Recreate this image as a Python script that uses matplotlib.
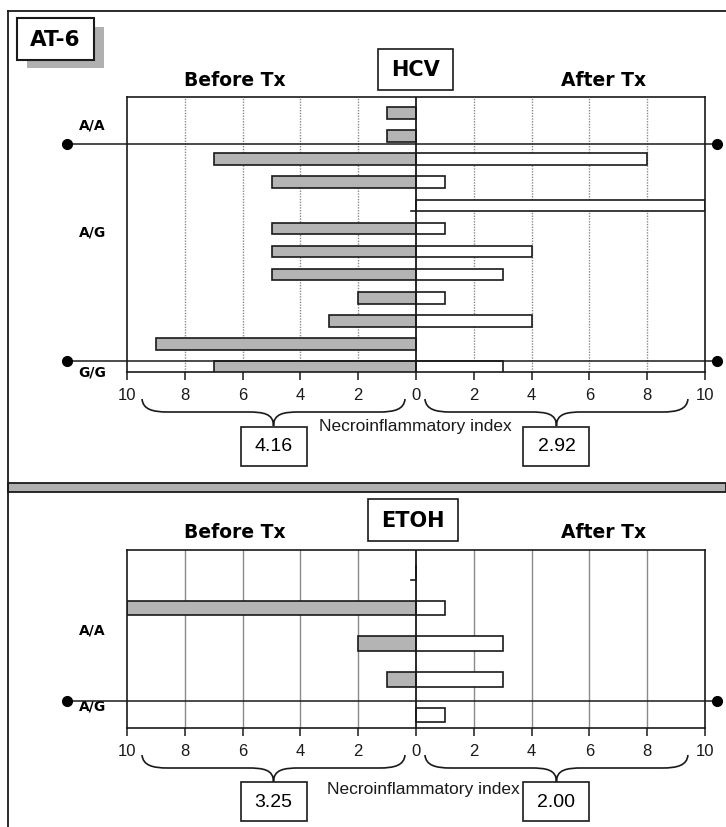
import matplotlib
matplotlib.use("Agg")
import matplotlib.pyplot as plt
from matplotlib.patches import Rectangle, PathPatch
from matplotlib.path import Path
from matplotlib.ticker import FuncFormatter

# -----------------------------
# Data  (None = no value, 0 = a real zero)
# -----------------------------

hcv_before = [1, 1, 7, 5, 0, 5, 5, 5, 2, 3, 9, 7]
hcv_after = [None, None, 8, 1, 10, 1, 4, 3, 1, 4, None, 3]
hcv_groups = ["A/A", "A/G", "G/G"]
hcv_group_pos = [0.48, 5.15, 11.2]
hcv_splits = [1.34, 10.74]
hcv_means = ["4.16", "2.92"]

etoh_before = [0, 10, 2, 1, None]
etoh_after = [None, 1, 3, 3, 1]
etoh_groups = ["A/A", "A/G"]
etoh_group_pos = [1.59, 3.75]
etoh_splits = [3.6]
etoh_means = ["3.25", "2.00"]

ticks = [-10, -8, -6, -4, -2, 0, 2, 4, 6, 8, 10]

W, H = 726, 828
NUM_FONT = "Liberation Sans"
BOLD_FONT = "DejaVu Sans"

fig = plt.figure(figsize=(W / 100, H / 100), dpi=100)


def px_axes(left, top, right, bottom):
    return fig.add_axes([left / W, 1 - bottom / H, (right - left) / W, (bottom - top) / H])


# -----------------------------
# Panels
# -----------------------------

def draw_panel(ax, before, after, groups, group_pos, splits, bar_h, ylim, grid_ls):
    rows = list(range(len(before)))
    ax.set_xlim(-10, 10)
    ax.set_ylim(*ylim)

    for x in ticks:
        if x not in (-10, 0, 10):
            ax.axvline(x, color="#8a8a8a", lw=1.0, ls=grid_ls, zorder=0)

    ax.barh(rows, [-(v or 0) for v in before], height=bar_h, color="#b4b4b4",
            edgecolor="#1a1a1a", lw=1.2, zorder=2)
    ax.barh(rows, [(v or 0) for v in after], height=bar_h, color="white",
            edgecolor="#1a1a1a", lw=1.2, zorder=2)

    # small tick where the before value is a real zero
    for r, v in zip(rows, before):
        if v == 0:
            ax.plot([-0.17, 0], [r + bar_h / 2, r + bar_h / 2], color="#1a1a1a",
                    lw=1.2, zorder=3)

    ax.axvline(0, color="#1a1a1a", lw=1.3, zorder=3)

    for s in splits:
        ax.plot([-12.08, 10.42], [s, s], color="#1a1a1a", lw=1.1,
                clip_on=False, zorder=4)
        ax.plot([-12.08, 10.42], [s, s], "o", color="black", ms=7,
                clip_on=False, zorder=4)

    for g, p in zip(groups, group_pos):
        ax.text(-11.2, p, g, ha="center", va="center", fontsize=10,
                fontweight="bold", family=BOLD_FONT, clip_on=False)

    ax.set_yticks([])
    ax.set_xticks(ticks)
    ax.xaxis.set_major_formatter(FuncFormatter(lambda v, p: f"{abs(int(v))}"))
    ax.tick_params(axis="x", length=6, width=1.1, pad=5, labelsize=12,
                   colors="#1a1a1a")
    for lab in ax.get_xticklabels():
        lab.set_family(NUM_FONT)
    for sp in ax.spines.values():
        sp.set_linewidth(1.2)
        sp.set_color("#1a1a1a")


ax_top = px_axes(127, 98, 705, 373)
draw_panel(ax_top, hcv_before, hcv_after, hcv_groups, hcv_group_pos,
           hcv_splits, 0.5, (11.21, -0.69), (0, (1, 1)))

ax_bot = px_axes(127, 551, 705, 729)
draw_panel(ax_bot, etoh_before, etoh_after, etoh_groups, etoh_group_pos,
           etoh_splits, 0.41, (4.37, -0.63), "-")

# -----------------------------
# Overlay (frames, boxes, braces)
# -----------------------------

ov = fig.add_axes([0, 0, 1, 1])
ov.set_xlim(0, W)
ov.set_ylim(H, 0)
ov.axis("off")
ov.patch.set_visible(False)


def to_px(ax, v):
    return ax.transData.transform((v, 0))[0]


def box(cx, cy, w, h, text, size, bold=False, lw=1.2):
    ov.add_patch(Rectangle((cx - w / 2, cy - h / 2), w, h, facecolor="white",
                           edgecolor="#1a1a1a", lw=lw, zorder=5))
    ov.text(cx, cy, text, ha="center", va="center", fontsize=size,
            fontweight="bold" if bold else "normal",
            family=BOLD_FONT if bold else NUM_FONT, zorder=6)


def brace(xa, xb, y0, y1, y2, r=26):
    xm = (xa + xb) / 2
    verts = [
        (xa, y0),
        (xa + 1, y0 + 0.8 * (y1 - y0)), (xa + 0.4 * r, y1), (xa + r, y1),
        (xm - r, y1),
        (xm - 0.4 * r, y1), (xm, y1 + 0.1 * (y2 - y1)), (xm, y2),
        (xm, y1 + 0.1 * (y2 - y1)), (xm + 0.4 * r, y1), (xm + r, y1),
        (xb - r, y1),
        (xb - 0.4 * r, y1), (xb - 1, y0 + 0.8 * (y1 - y0)), (xb, y0),
    ]
    codes = [Path.MOVETO,
             Path.CURVE4, Path.CURVE4, Path.CURVE4,
             Path.LINETO,
             Path.CURVE4, Path.CURVE4, Path.CURVE4,
             Path.CURVE4, Path.CURVE4, Path.CURVE4,
             Path.LINETO,
             Path.CURVE4, Path.CURVE4, Path.CURVE4]
    ov.add_patch(PathPatch(Path(verts, codes), facecolor="none",
                           edgecolor="#1a1a1a", lw=1.2, zorder=5))


def panel_footer(ax, means, base, label_x, label_dy):
    for (a, b), m in zip([(-9.48, -0.38), (0.31, 9.41)], means):
        xa, xb = to_px(ax, a), to_px(ax, b)
        brace(xa, xb, base + 27, base + 40, base + 54)
        box((xa + xb) / 2, base + 74, 66, 39, m, 14)
    ov.text(label_x, base + label_dy, "Necroinflammatory index", ha="center",
            va="center", fontsize=12.5, family=NUM_FONT, color="#1a1a1a")


panel_footer(ax_top, hcv_means, 373, 415, 54)
panel_footer(ax_bot, etoh_means, 729, 423, 61)

# headings
for y in (80, 533):
    ov.text(235, y, "Before Tx", ha="center", va="center", fontsize=13.5,
            fontweight="bold", family=BOLD_FONT)
    ov.text(604, y, "After Tx", ha="center", va="center", fontsize=13.5,
            fontweight="bold", family=BOLD_FONT)

box(415.5, 70.5, 75, 41, "HCV", 15, bold=True)
box(413, 521, 90, 42, "ETOH", 15, bold=True)

# AT-6 label with shadow
ov.add_patch(Rectangle((27, 28), 77, 41, facecolor="#b0b0b0", lw=0, zorder=4))
box(55.5, 40, 77, 42, "AT-6", 15.5, bold=True, lw=1.5)

# outer frame
ov.plot([8, W], [12, 12], color="#1a1a1a", lw=1.3)
ov.plot([8, 8], [12, H], color="#1a1a1a", lw=1.3)
ov.add_patch(Rectangle((8, 484), W - 8, 9, facecolor="#b0b0b0",
                       edgecolor="#1a1a1a", lw=1.3))

fig.savefig("out.png", dpi=100)
